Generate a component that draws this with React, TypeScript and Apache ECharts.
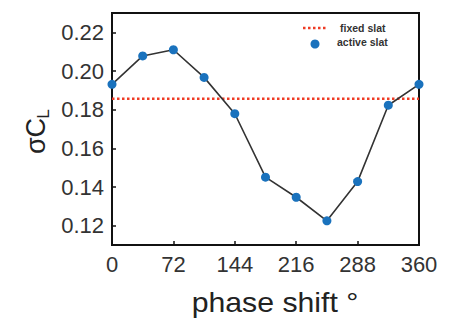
import React, { useEffect, useRef } from "react";
import * as echarts from "echarts";

const phaseShift = [0, 36, 72, 108, 144, 180, 216, 252, 288, 324, 360];
const activeSlat = [0.1931, 0.2078, 0.211, 0.1967, 0.1779, 0.1451, 0.1347, 0.1225, 0.1428, 0.1823, 0.1931];
const fixedSlatValue = 0.1857;
const xTicks = [0, 72, 144, 216, 288, 360];
const yTicks = [0.12, 0.14, 0.16, 0.18, 0.2, 0.22];

const FONT = "'Liberation Sans', Arial, Helvetica, sans-serif";

export default function App() {
  const ref = useRef<HTMLDivElement>(null);
  useEffect(() => {
    if (!ref.current) return;
    const chart = echarts.init(ref.current, undefined, { renderer: "svg" });
    chart.setOption({
      animation: false,
      backgroundColor: "#ffffff",
      textStyle: { fontFamily: FONT },
      grid: {
        left: 112,
        right: 32,
        top: 13,
        bottom: 75,
        show: true,
        borderColor: "#111",
        borderWidth: 2,
        backgroundColor: "transparent",
      },
      xAxis: {
        type: "value",
        min: 0,
        max: 360,
        interval: 72,
        axisLine: { show: true, onZero: false, lineStyle: { color: "#111", width: 2 } },
        axisTick: { show: true, inside: true, length: 4, lineStyle: { color: "#111", width: 1.5 }, customValues: xTicks },
        axisLabel: { color: "#333", fontSize: 22, fontFamily: FONT, margin: 8, customValues: xTicks, showMinLabel: true, showMaxLabel: true },
        splitLine: { show: false },
      },
      yAxis: {
        type: "value",
        min: 0.11,
        max: 0.23,
        axisLine: { show: true, onZero: false, lineStyle: { color: "#111", width: 2 } },
        axisTick: { show: true, inside: true, length: 4, lineStyle: { color: "#111", width: 1.5 }, customValues: yTicks },
        axisLabel: {
          color: "#333",
          fontSize: 22,
          fontFamily: FONT,
          margin: 8,
          customValues: yTicks,
          formatter: (v: number) => v.toFixed(2),
        },
        splitLine: { show: false },
      },
      series: [
        {
          name: "fixed slat",
          type: "line",
          data: [
            [0, fixedSlatValue],
            [360, fixedSlatValue],
          ],
          showSymbol: false,
          symbol: "none",
          lineStyle: { color: "#ee3b24", width: 2.5, type: [2.5, 2.5] },
          z: 2,
        },
        {
          name: "active slat",
          type: "line",
          data: phaseShift.map((x, i) => [x, activeSlat[i]]),
          symbol: "circle",
          symbolSize: 9,
          itemStyle: { color: "#1a72bd" },
          lineStyle: { color: "#333", width: 1.6 },
          z: 3,
        },
      ],
      graphic: [
        {
          type: "line",
          shape: { x1: 303, y1: 28, x2: 326, y2: 28 },
          style: { stroke: "#ee3b24", lineWidth: 2.5, lineDash: [2.5, 2.5] },
        },
        {
          type: "text",
          x: 340,
          y: 28,
          style: { text: "fixed slat", fontSize: 10.5, fontWeight: "bold", fill: "#333", fontFamily: FONT, align: "left", verticalAlign: "middle" },
        },
        {
          type: "circle",
          shape: { cx: 315, cy: 44, r: 4.5 },
          style: { fill: "#1a72bd" },
        },
        {
          type: "text",
          x: 337,
          y: 42,
          style: { text: "active slat", fontSize: 10.5, fontWeight: "bold", fill: "#333", fontFamily: FONT, align: "left", verticalAlign: "middle" },
        },
        {
          type: "text",
          x: 275,
          y: 302,
          scaleX: 1.08,
          style: { text: "phase shift °", fontSize: 28, fill: "#222", fontFamily: FONT, align: "center", verticalAlign: "middle" },
        },
        {
          type: "text",
          x: 36,
          y: 136,
          rotation: Math.PI / 2,
          style: { text: "σC", fontSize: 27, fill: "#222", fontFamily: FONT, align: "center", verticalAlign: "middle" },
        },
        {
          type: "text",
          x: 43,
          y: 114,
          rotation: Math.PI / 2,
          style: { text: "L", fontSize: 17, fill: "#222", fontFamily: FONT, align: "center", verticalAlign: "middle" },
        },
      ],
    });
    return () => chart.dispose();
  }, []);
  return <div ref={ref} style={{ position: "absolute", left: 0, top: 0, width: 451, height: 320 }} />;
}
